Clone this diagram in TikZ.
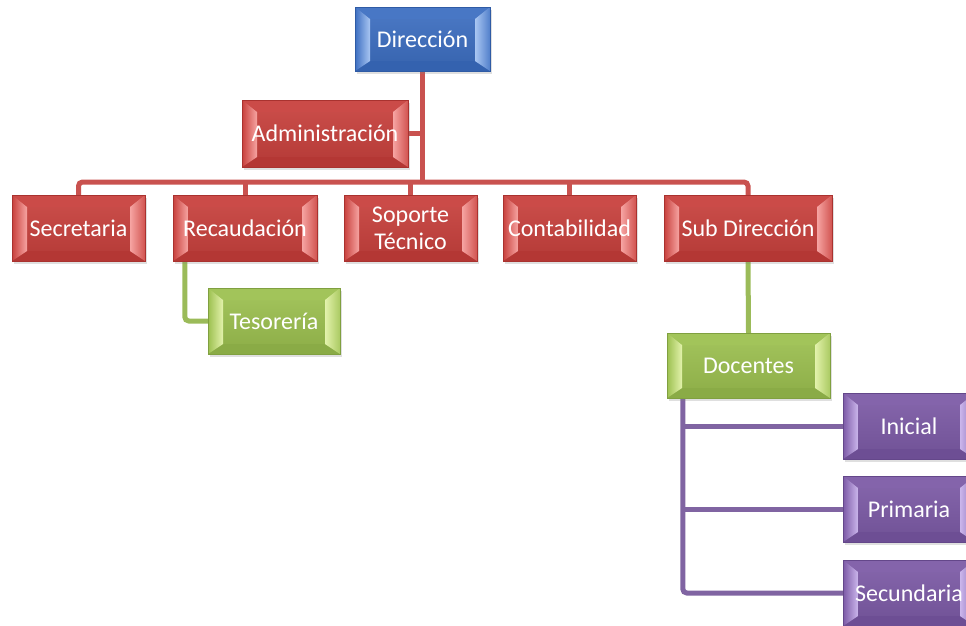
\documentclass[tikz,border=0pt]{standalone}
\usepackage{fontspec}
\setmainfont{Carlito}
\usetikzlibrary{calc,shadows,backgrounds}

% face / light / dark tones for each level
\definecolor{blF}{HTML}{3C6EC1}\definecolor{blL}{HTML}{A9C6F2}\definecolor{blD}{HTML}{2A5399}
\definecolor{rdF}{HTML}{C8403C}\definecolor{rdL}{HTML}{F6A4A2}\definecolor{rdD}{HTML}{9C2C29}
\definecolor{grF}{HTML}{9CC04F}\definecolor{grL}{HTML}{E3F2AC}\definecolor{grD}{HTML}{74923A}
\definecolor{puF}{HTML}{7C5AA6}\definecolor{puL}{HTML}{CBB6EC}\definecolor{puD}{HTML}{5A3F7E}
\definecolor{rdLine}{HTML}{C9524F}
\definecolor{grLine}{HTML}{9BBB59}
\definecolor{puLine}{HTML}{8064A2}

\tikzset{
  bevel/.style={
    top color=#1F!92!white, bottom color=#1F!90!black,
    draw=#1D!70!#1F, line width=0.4pt,
    inner sep=0pt, text=white, align=center,
    font=\fontsize{24}{27}\selectfont,
    drop shadow={shadow xshift=1.5pt,shadow yshift=-3pt,opacity=0.25},
    path picture={
      \coordinate (pNW) at (path picture bounding box.north west);
      \coordinate (pNE) at (path picture bounding box.north east);
      \coordinate (pSW) at (path picture bounding box.south west);
      \coordinate (pSE) at (path picture bounding box.south east);
      \coordinate (iNW) at ($(pNW)+(15pt,-12pt)$);
      \coordinate (iNE) at ($(pNE)+(-15pt,-12pt)$);
      \coordinate (iSW) at ($(pSW)+(15pt,10pt)$);
      \coordinate (iSE) at ($(pSE)+(-15pt,10pt)$);
      \fill[#1F!94!white] (pNW) -- (pNE) -- (iNE) -- (iNW) -- cycle;
      \fill[#1F!55!#1D] (pSW) -- (pSE) -- (iSE) -- (iSW) -- cycle;
      \shade[left color=#1F, right color=#1L] (pNW) -- (iNW) -- (iSW) -- (pSW) -- cycle;
      \shade[left color=#1L, right color=#1F!80!#1L] (pNE) -- (iNE) -- (iSE) -- (pSE) -- cycle;
    }
  },
  link/.style={line width=5pt, rounded corners=4pt},
  redlink/.style={link, draw=rdLine},
  greenlink/.style={link, draw=grLine},
  purplelink/.style={link, draw=puLine}
}

\begin{document}
\begin{tikzpicture}[x=1pt, y=-1pt]
\useasboundingbox (0,0) rectangle (966,625);
\clip (0,0) rectangle (966,625);

% top levels
\node[bevel=bl, minimum width=135pt, minimum height=64pt] (dir) at (422.5,39) {Dirección};
\node[bevel=rd, minimum width=166pt, minimum height=67pt] (adm) at (325,133.5) {Administración};

% departments row
\node[bevel=rd, minimum width=133pt, minimum height=66pt] (sec) at (78.5,228) {Secretaria};
\node[bevel=rd, minimum width=144pt, minimum height=66pt] (rec) at (245,228) {Recaudación};
\node[bevel=rd, minimum width=133pt, minimum height=66pt] (sop) at (410.5,228) {Soporte\\Técnico};
\node[bevel=rd, minimum width=133pt, minimum height=66pt] (con) at (569.5,228) {Contabilidad};
\node[bevel=rd, minimum width=168pt, minimum height=66pt] (sub) at (748,228) {Sub Dirección};

% second level
\node[bevel=gr, minimum width=132pt, minimum height=66pt] (tes) at (274,321) {Tesorería};
\node[bevel=gr, minimum width=163pt, minimum height=65pt] (doc) at (748.5,365.5) {Docentes};

% teaching levels
\node[bevel=pu, minimum width=132pt, minimum height=66pt] (ini) at (909,426) {Inicial};
\node[bevel=pu, minimum width=132pt, minimum height=66pt] (pri) at (909,509) {Primaria};
\node[bevel=pu, minimum width=132pt, minimum height=66pt] (secu) at (909,593) {Secundaria};

\begin{scope}[on background layer]
  \coordinate (bus) at (0,182);
  \draw[redlink] (dir.south) -- (dir.south |- bus);
  \draw[redlink] (adm.east) -- (adm.east -| dir.south);
  \draw[redlink] (sec.north) |- (sub.north |- bus) -- (sub.north);
  \draw[redlink] (rec.north) -- (rec.north |- bus);
  \draw[redlink] (sop.north) -- (sop.north |- bus);
  \draw[redlink] (con.north) -- (con.north |- bus);

  \coordinate (gv) at ($(rec.south west)+(12pt,0)$);
  \draw[greenlink] (gv) |- (tes.west);
  \draw[greenlink] (sub.south) -- (doc.north);

  \coordinate (pv) at ($(doc.south west)+(16pt,0)$);
  \draw[purplelink] (pv) |- (secu.west);
  \draw[purplelink] (pv |- ini.west) -- (ini.west);
  \draw[purplelink] (pv |- pri.west) -- (pri.west);
\end{scope}
\end{tikzpicture}
\end{document}
